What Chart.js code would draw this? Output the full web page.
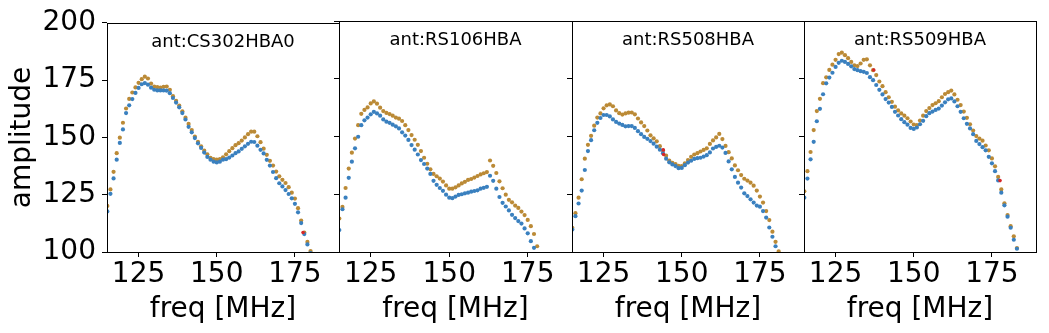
<!DOCTYPE html>
<html>
<head>
<meta charset="utf-8">
<script src="https://cdn.jsdelivr.net/npm/chart.js@4.4.1/dist/chart.umd.min.js"></script>
<style>
  body { margin: 0; background: #fff; }
  #wrap { position: relative; width: 1049px; height: 333px; }
  #wrap canvas { position: absolute; left: 0; top: 0; }
</style>
</head>
<body>
<div id="wrap">
  <canvas id="p0" width="1049" height="333"></canvas>
  <canvas id="p1" width="1049" height="333"></canvas>
  <canvas id="p2" width="1049" height="333"></canvas>
  <canvas id="p3" width="1049" height="333"></canvas>
</div>
<script>
// frequency channels (MHz), shared by all antennas
const freqs = [115, 116, 117, 118, 119, 120, 121, 122, 123, 124,
    125, 126, 127, 128, 129, 130, 131, 132, 133, 134,
    135, 136, 137, 138, 139, 140, 141, 142, 143, 144,
    145, 146, 147, 148, 149, 150, 151, 152, 153, 154,
    155, 156, 157, 158, 159, 160, 161, 162, 163, 164,
    165, 166, 167, 168, 169, 170, 171, 172, 173, 174,
    175, 176, 177, 178, 179, 180, 181, 182, 183];

const antennas = ["ant:CS302HBA0", "ant:RS106HBA", "ant:RS508HBA", "ant:RS509HBA"];

// blue series
const blueCS302 = [117.7, 125.4, 132.1, 140.3, 147.6, 153.5, 160.6, 164.0, 166.7, 169.4,
    171.6, 173.2, 173.7, 173.0, 171.7, 170.8, 170.5, 170.5, 170.5, 170.4,
    169.3, 167.2, 165.2, 163.1, 160.6, 157.8, 154.6, 152.2, 149.7, 147.4,
    145.4, 143.4, 141.5, 140.3, 139.4, 139.1, 139.4, 140.3, 140.5, 141.2,
    142.1, 143.1, 143.9, 145.0, 146.1, 147.2, 148.1, 148.0, 146.4, 144.6,
    143.0, 140.2, 137.7, 134.9, 132.2, 130.0, 128.6, 127.0, 125.3, 123.4,
    121.0, 117.3, 112.6, 107.8, 103.3, 99.5];
const blueRS106 = [109.5, 118.5, 123.5, 132.1, 139.1, 144.9, 149.9, 154.9, 157.0, 158.2,
    159.6, 160.7, 160.0, 159.0, 157.4, 156.4, 155.9, 155.1, 154.4, 153.5,
    151.8, 150.4, 148.5, 146.3, 144.3, 142.2, 139.8, 138.1, 136.1, 133.8,
    130.8, 129.1, 127.7, 126.5, 124.8, 123.5, 123.3, 124.0, 124.7, 125.0,
    125.4, 125.7, 126.1, 126.4, 126.7, 127.4, 127.8, 128.2, 133.0, 130.8,
    127.4, 123.8, 121.3, 119.7, 118.0, 116.1, 114.7, 113.4, 112.3, 110.2,
    108.1, 104.7, 101.8, 99.0];
const blueRS508 = [109.7, 115.5, 121.0, 126.6, 135.5, 143.7, 148.4, 152.7, 155.9, 158.0,
    159.3, 159.3, 158.7, 157.4, 156.3, 155.6, 155.0, 154.4, 154.5, 154.5,
    153.7, 152.3, 151.0, 149.8, 149.0, 148.0, 146.9, 145.6, 144.3, 142.8,
    140.4, 138.8, 137.9, 137.2, 136.3, 136.4, 137.6, 138.7, 139.5, 140.3,
    140.6, 140.8, 141.3, 141.9, 143.1, 144.8, 145.5, 146.0, 145.2, 142.9,
    139.2, 135.8, 132.5, 130.0, 127.9, 125.4, 124.2, 122.8, 121.4, 120.1,
    119.6, 117.7, 114.9, 110.6, 106.6, 102.5];
const blueRS509 = [123.5, 131.8, 140.1, 147.7, 156.6, 162.0, 168.3, 173.0, 175.5, 177.6,
    180.1, 181.9, 182.8, 182.3, 181.4, 180.4, 179.2, 178.7, 178.3, 178.0,
    177.5, 175.7, 174.4, 172.3, 170.2, 168.2, 166.2, 164.7, 162.8, 160.7,
    159.1, 157.5, 156.2, 155.1, 153.7, 153.3, 153.9, 155.3, 156.8, 158.8,
    160.1, 160.8, 161.5, 162.1, 163.4, 164.8, 166.1, 166.5, 165.2, 163.1,
    160.7, 157.9, 155.5, 153.5, 151.0, 148.1, 146.7, 145.4, 144.0, 141.2,
    138.4, 135.0, 131.0, 125.7, 120.2, 115.3, 110.5, 105.3, 101.4];

// orange series
const orangeCS302 = [120.1, 127.3, 135.0, 143.1, 149.9, 156.4, 162.6, 166.8, 169.6, 171.8,
    173.8, 175.4, 176.5, 175.7, 173.5, 172.2, 171.9, 171.7, 172.1, 172.2,
    170.8, 168.0, 166.0, 163.9, 161.4, 158.6, 155.9, 153.2, 150.4, 148.1,
    146.1, 144.2, 142.6, 141.1, 140.5, 140.3, 140.5, 141.3, 142.6, 144.0,
    145.3, 146.6, 147.5, 148.6, 150.0, 151.4, 152.5, 152.5, 150.5, 147.9,
    145.1, 142.4, 139.8, 137.7, 135.1, 133.0, 131.5, 130.1, 128.3, 125.9,
    123.3, 119.1, 113.7, 108.5, 104.4, 100.4];
const orangeRS106 = [114.5, 119.5, 127.7, 136.1, 143.0, 149.1, 154.9, 159.8, 161.5, 162.6,
    164.3, 165.2, 164.2, 162.5, 161.0, 160.2, 159.7, 159.0, 158.2, 157.7,
    156.7, 154.9, 152.8, 150.6, 148.6, 146.4, 143.7, 140.8, 138.2, 135.8,
    133.8, 132.8, 131.8, 130.5, 128.8, 127.4, 127.4, 128.0, 128.8, 129.7,
    130.4, 131.2, 131.6, 132.2, 132.9, 133.6, 134.1, 134.6, 139.6, 137.3,
    134.2, 130.6, 127.6, 124.8, 122.6, 121.5, 120.1, 119.1, 117.5, 116.0,
    113.9, 111.2, 107.8, 102.5];
const orangeRS508 = [110.5, 116.8, 123.5, 131.5, 140.4, 146.4, 150.3, 154.7, 158.2, 160.0,
    162.2, 163.5, 163.9, 163.1, 161.3, 160.1, 159.5, 160.0, 160.3, 160.4,
    159.6, 157.8, 156.1, 154.5, 152.6, 150.5, 149.2, 147.9, 145.8, 143.9,
    141.7, 139.6, 138.6, 138.1, 137.3, 137.2, 138.4, 139.8, 141.2, 142.2,
    142.8, 143.5, 144.2, 144.9, 146.8, 148.3, 149.6, 151.1, 148.9, 145.9,
    143.2, 140.5, 137.5, 135.4, 133.3, 131.7, 130.9, 130.0, 128.7, 126.6,
    124.0, 121.4, 117.7, 113.8, 108.8, 104.4, 100.3];
const orangeRS509 = [126.3, 135.0, 143.3, 152.8, 161.0, 166.3, 173.1, 175.6, 178.8, 181.1,
    183.2, 185.7, 186.3, 185.2, 183.9, 182.3, 180.8, 180.5, 181.6, 183.2,
    183.4, 180.8, 178.7, 176.6, 173.8, 171.8, 169.2, 167.0, 165.0, 162.9,
    161.3, 160.0, 159.0, 157.9, 156.5, 155.2, 154.9, 156.9, 159.0, 161.0,
    162.3, 163.6, 164.4, 165.3, 167.0, 168.4, 169.2, 169.9, 168.2, 165.9,
    163.6, 160.8, 158.1, 155.3, 152.6, 150.2, 149.1, 148.2, 146.1, 144.0,
    140.5, 137.1, 132.5, 127.1, 121.1, 116.0, 111.2, 106.8, 101.7];

// flagged (red) points
const redFreqs = [[177.6], [], [144.1, 144.2], [137.2, 177.6]];
const redVals = [[108.5], [], [144.2, 142.2], [178.8, 130.9]];

const blueAll = [blueCS302, blueRS106, blueRS508, blueRS509];
const orangeAll = [orangeCS302, orangeRS106, orangeRS508, orangeRS509];

const xTicks = [125, 150, 175];
const yTicks = [100, 125, 150, 175, 200];
const xMin = 114.9, xMax = 189.1;
const yMin = 100, yMax = 200;

// panel edges in page pixels
const panelLeft = [107, 339, 572, 804];
const panelRight = [339, 572, 804, 1036];
const plotTop = 21, plotBottom = 252;
const W = 1049, H = 333;

Chart.defaults.font.family = "'DejaVu Sans', sans-serif";
Chart.defaults.color = "#000";

function toPoints(xs, ys) {
    const pts = [];
    for (let i = 0; i < ys.length; i++) pts.push({ x: xs[i], y: ys[i] });
    return pts;
}

const framePlugin = {
    id: "frame",
    afterDraw(chart, args, opts) {
        const { ctx, chartArea } = chart;
        ctx.save();
        ctx.strokeStyle = "#000";
        ctx.lineWidth = 1;
        const l = Math.round(chartArea.left) + 0.5;
        const r = Math.round(chartArea.right) + 0.5;
        const t = Math.round(chartArea.top) + 0.5;
        const b = Math.round(chartArea.bottom) + 0.5;
        ctx.strokeRect(l, t, r - l, b - t);
        ctx.font = "18px 'DejaVu Sans'";
        ctx.fillStyle = "#000";
        ctx.textAlign = "center";
        ctx.textBaseline = "alphabetic";
        ctx.fillText(opts.text, (chartArea.left + chartArea.right) / 2, chartArea.top + 24);
        ctx.restore();
    }
};

for (let p = 0; p < 4; p++) {
    const ctx = document.getElementById("p" + p).getContext("2d");
    new Chart(ctx, {
        type: "scatter",
        data: {
            datasets: [
                {
                    data: toPoints(redFreqs[p], redVals[p]),
                    backgroundColor: "#d62728",
                    pointRadius: 1.8,
                    borderWidth: 0
                },
                {
                    data: toPoints(freqs, blueAll[p]),
                    backgroundColor: "#3a80bf",
                    pointRadius: 2.1,
                    borderWidth: 0
                },
                {
                    data: toPoints(freqs, orangeAll[p]),
                    backgroundColor: "#bb8a36",
                    pointRadius: 2.1,
                    borderWidth: 0
                }
            ]
        },
        options: {
            responsive: false,
            animation: false,
            devicePixelRatio: 1,
            clip: 0,
            layout: { padding: { left: 0, right: W - panelRight[p], top: plotTop, bottom: 0 } },
            plugins: {
                legend: { display: false },
                tooltip: { enabled: false },
                frame: { text: antennas[p] }
            },
            scales: {
                x: {
                    type: "linear",
                    min: xMin,
                    max: xMax,
                    afterBuildTicks: (s) => { s.ticks = xTicks.map(v => ({ value: v })); },
                    afterFit: (s) => { s.height = H - plotBottom; },
                    ticks: { font: { size: 28 }, color: "#000", padding: 1, maxRotation: 0 },
                    grid: { drawOnChartArea: false, drawTicks: true, tickLength: 5, color: "#000" },
                    border: { display: false },
                    title: { display: true, text: "freq [MHz]", font: { size: 28 }, color: "#000", padding: { top: 0, bottom: 6 } }
                },
                y: {
                    min: yMin,
                    max: yMax,
                    afterBuildTicks: (s) => { s.ticks = yTicks.map(v => ({ value: v })); },
                    afterFit: (s) => { s.width = panelLeft[p]; },
                    ticks: { display: p === 0, font: { size: 28 }, color: "#000", padding: 6 },
                    grid: { drawOnChartArea: false, drawTicks: true, tickLength: 5, color: "#000" },
                    border: { display: false },
                    title: { display: p === 0, text: "amplitude", font: { size: 28 }, color: "#000", padding: { top: 6, bottom: 0 } }
                }
            }
        },
        plugins: [framePlugin]
    });
}
</script>
</body>
</html>
